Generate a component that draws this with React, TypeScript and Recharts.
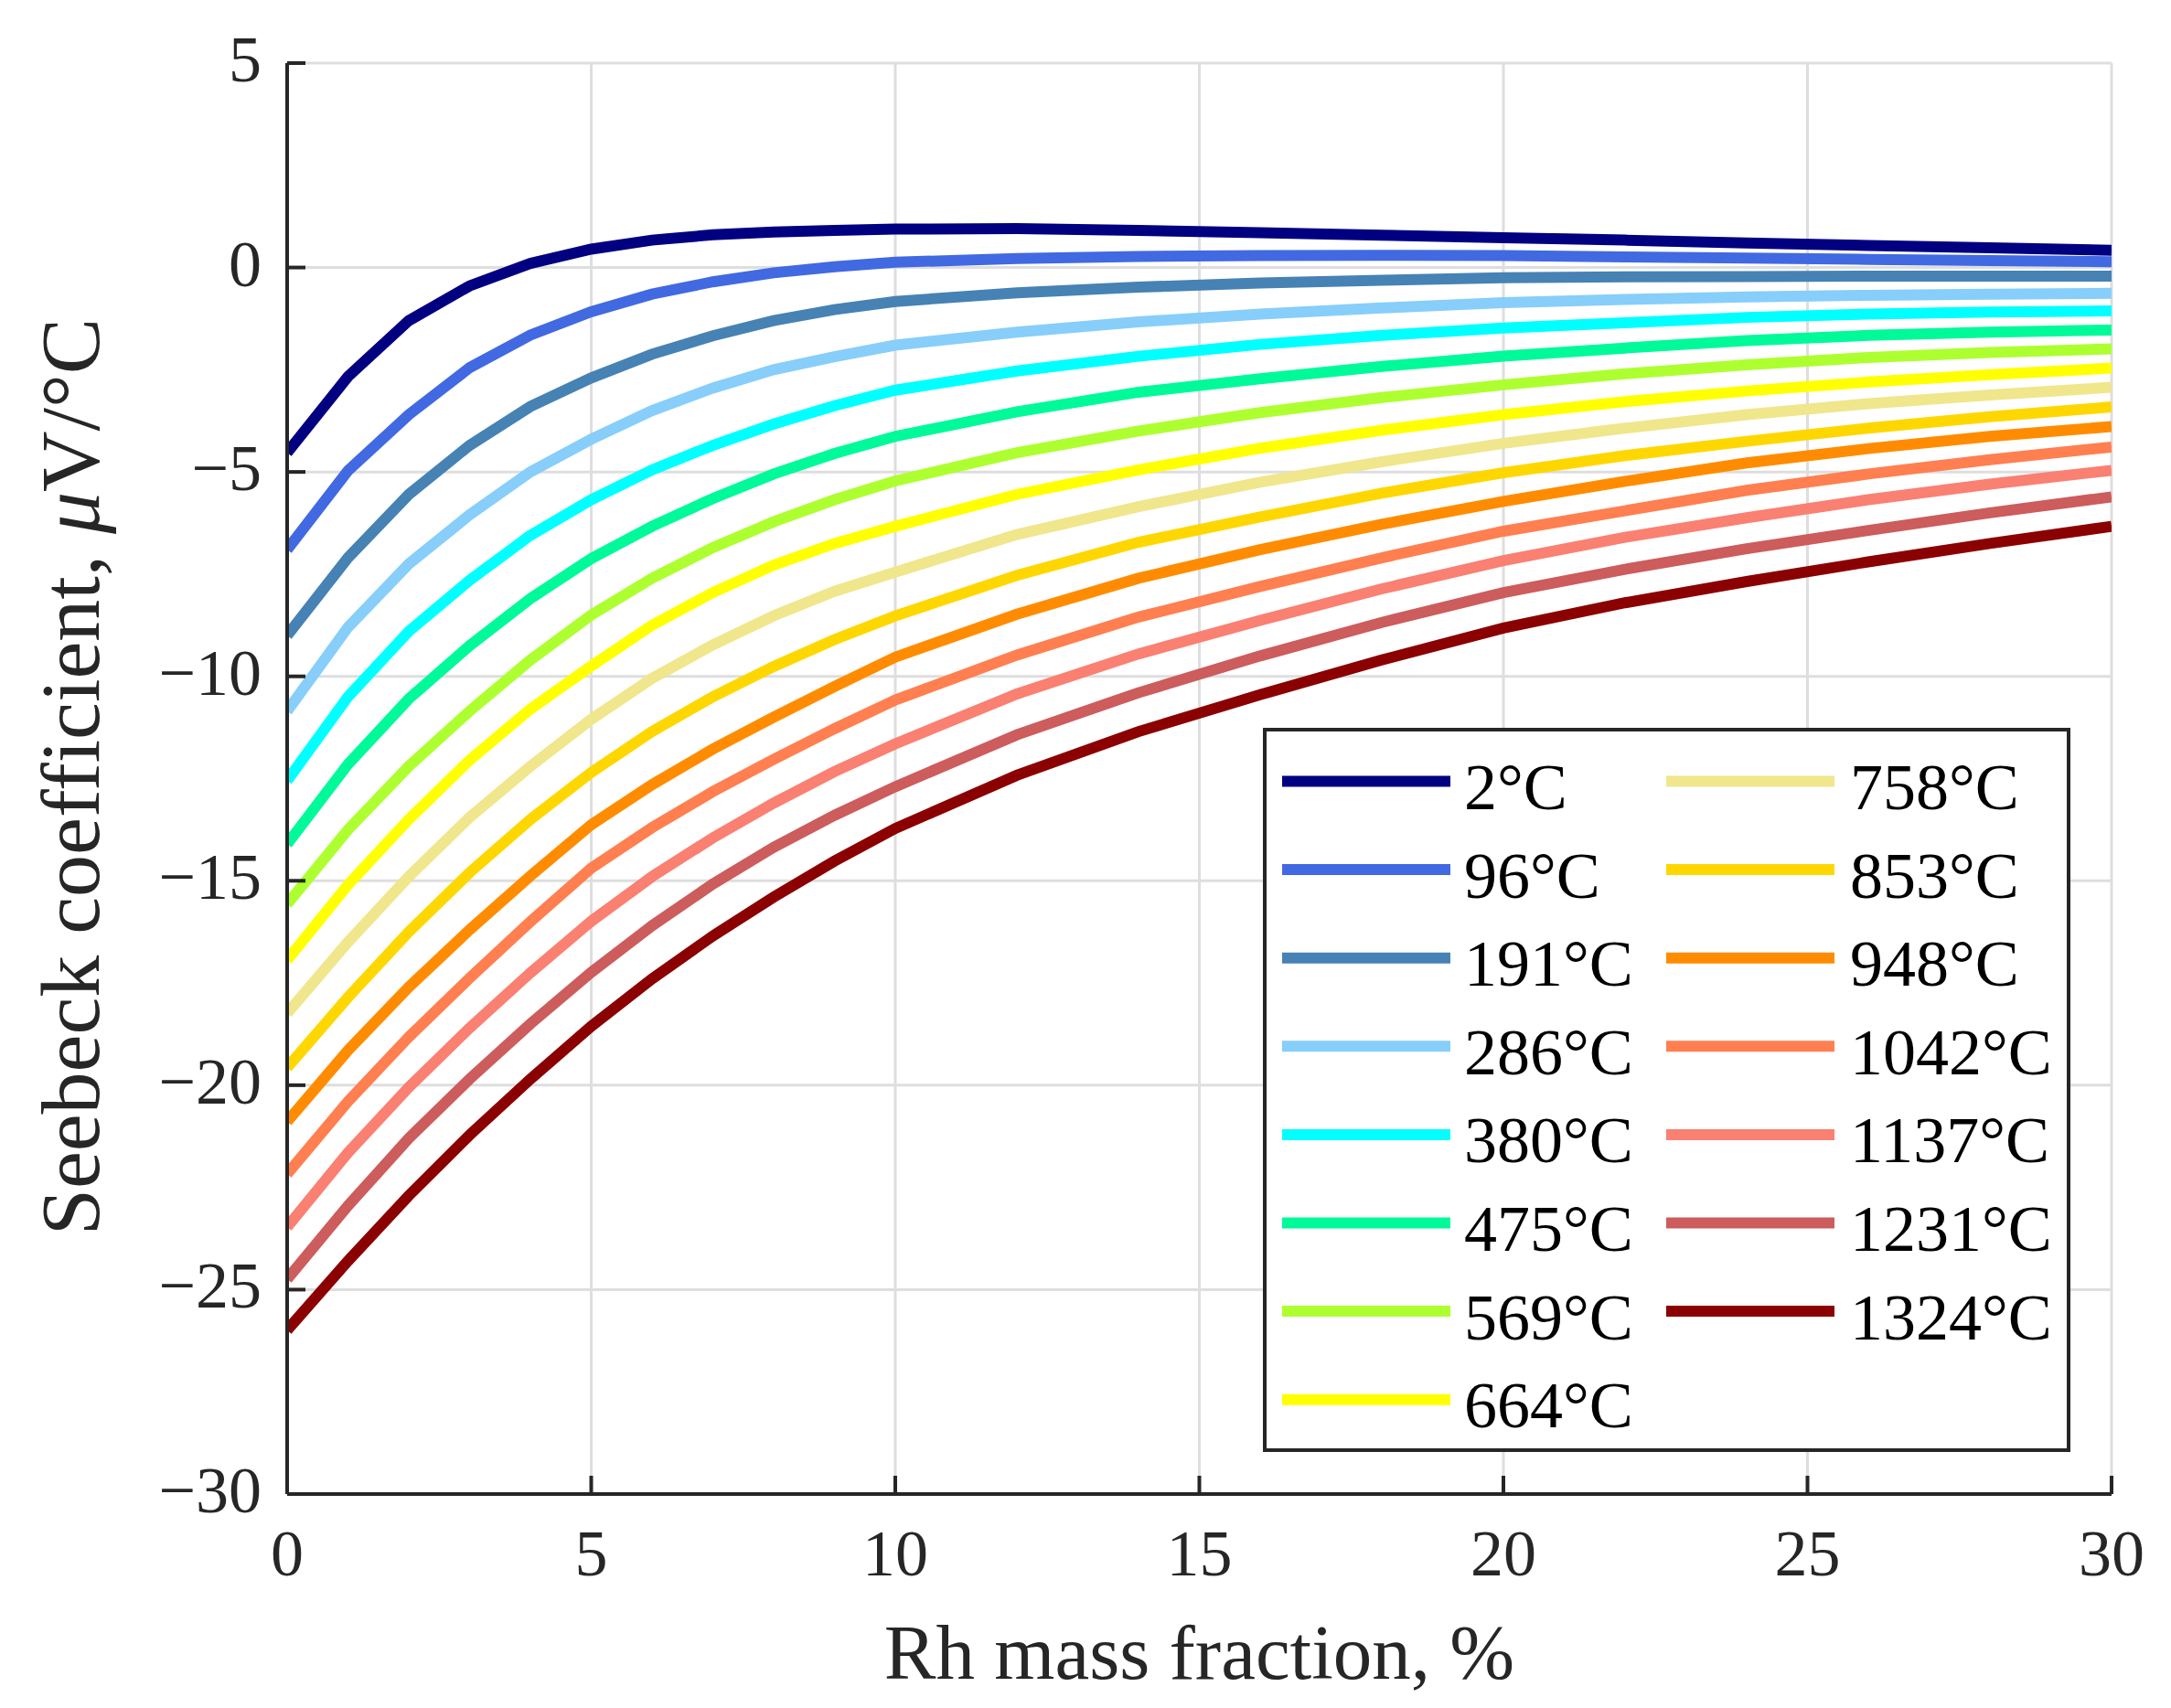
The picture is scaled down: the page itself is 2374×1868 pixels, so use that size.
import React from 'react';
import { LineChart, Line, XAxis, YAxis, CartesianGrid, Label } from 'recharts';

// ---------- data ----------
const xValues = [0, 1, 2, 3, 4, 5, 6, 7, 8, 9, 10, 12, 14, 16, 18, 20, 22, 24, 26, 28, 30];

const t2 = [-4.53, -2.67, -1.3, -0.45, 0.1, 0.45, 0.67, 0.8, 0.87, 0.91, 0.94, 0.95, 0.91, 0.85, 0.79, 0.73, 0.67, 0.6, 0.54, 0.48, 0.42];
const t96 = [-6.9, -4.97, -3.6, -2.45, -1.65, -1.08, -0.65, -0.35, -0.13, 0.02, 0.13, 0.22, 0.27, 0.29, 0.3, 0.29, 0.26, 0.23, 0.2, 0.17, 0.14];
const t191 = [-9.0, -7.1, -5.55, -4.35, -3.4, -2.7, -2.12, -1.67, -1.3, -1.03, -0.83, -0.62, -0.48, -0.38, -0.31, -0.25, -0.23, -0.22, -0.21, -0.21, -0.21];
const t286 = [-10.85, -8.8, -7.25, -6.05, -5.0, -4.2, -3.5, -2.95, -2.5, -2.18, -1.9, -1.58, -1.33, -1.14, -0.99, -0.86, -0.78, -0.72, -0.68, -0.65, -0.63];
const t380 = [-12.55, -10.5, -8.9, -7.65, -6.55, -5.68, -4.95, -4.35, -3.83, -3.38, -3.0, -2.53, -2.17, -1.88, -1.66, -1.48, -1.35, -1.22, -1.14, -1.09, -1.06];
const t475 = [-14.1, -12.15, -10.55, -9.25, -8.1, -7.12, -6.33, -5.65, -5.05, -4.55, -4.13, -3.53, -3.05, -2.72, -2.42, -2.17, -1.97, -1.79, -1.66, -1.58, -1.53];
const t569 = [-15.57, -13.75, -12.2, -10.85, -9.6, -8.5, -7.6, -6.85, -6.22, -5.68, -5.22, -4.53, -4.0, -3.55, -3.18, -2.87, -2.6, -2.38, -2.2, -2.08, -1.99];
const t664 = [-16.94, -15.1, -13.5, -12.05, -10.8, -9.75, -8.75, -7.95, -7.28, -6.75, -6.33, -5.55, -4.95, -4.42, -3.98, -3.6, -3.28, -3.02, -2.8, -2.62, -2.46];
const t758 = [-18.24, -16.5, -14.9, -13.45, -12.2, -11.05, -10.05, -9.23, -8.52, -7.92, -7.45, -6.53, -5.85, -5.25, -4.75, -4.3, -3.93, -3.6, -3.33, -3.12, -2.93];
const t853 = [-19.57, -17.85, -16.25, -14.8, -13.5, -12.35, -11.35, -10.5, -9.76, -9.1, -8.52, -7.53, -6.72, -6.1, -5.52, -5.02, -4.6, -4.25, -3.93, -3.65, -3.41];
const t948 = [-20.89, -19.15, -17.6, -16.2, -14.88, -13.63, -12.65, -11.78, -11.0, -10.25, -9.53, -8.48, -7.6, -6.9, -6.28, -5.72, -5.23, -4.78, -4.43, -4.13, -3.89];
const t1042 = [-22.17, -20.4, -18.82, -17.38, -16.0, -14.69, -13.7, -12.82, -12.03, -11.28, -10.58, -9.48, -8.55, -7.8, -7.1, -6.45, -5.95, -5.45, -5.05, -4.7, -4.39];
const t1137 = [-23.47, -21.65, -20.05, -18.6, -17.25, -15.99, -14.9, -13.95, -13.1, -12.33, -11.65, -10.43, -9.45, -8.63, -7.86, -7.17, -6.6, -6.12, -5.68, -5.3, -4.96];
const t1231 = [-24.74, -22.95, -21.3, -19.85, -18.5, -17.24, -16.1, -15.08, -14.18, -13.4, -12.7, -11.43, -10.4, -9.5, -8.68, -7.95, -7.38, -6.88, -6.43, -6.0, -5.61];
const t1324 = [-25.99, -24.3, -22.7, -21.22, -19.85, -18.56, -17.4, -16.35, -15.4, -14.52, -13.72, -12.42, -11.35, -10.45, -9.6, -8.82, -8.2, -7.68, -7.2, -6.75, -6.33];

const seriesNames = ['2°C', '96°C', '191°C', '286°C', '380°C', '475°C', '569°C', '664°C', '758°C', '853°C', '948°C', '1042°C', '1137°C', '1231°C', '1324°C'];
const seriesColors = ['#000080', '#4169E1', '#4682B4', '#87CEFA', '#00FFFF', '#00FA9A', '#ADFF2F', '#FFFF00', '#F0E68C', '#FFD700', '#FF8C00', '#FF7F50', '#FA8072', '#CD5C5C', '#8B0000'];
const seriesValues = [t2, t96, t191, t286, t380, t475, t569, t664, t758, t853, t948, t1042, t1137, t1231, t1324];

const xTicks = [0, 5, 10, 15, 20, 25, 30];
const yTicks = [-30, -25, -20, -15, -10, -5, 0, 5];

const xTitle = 'Rh mass fraction, %';
const yTitleText = 'Seebeck coefficient, ';
const yTitleMu = 'μ';
const yTitleUnit = 'V/°C';

const data = xValues.map((x, i) => {
  const row: Record<string, number> = { x };
  seriesValues.forEach((vals, k) => {
    row['s' + k] = vals[i];
  });
  return row;
});

// ---------- style / layout ----------
const W = 2366;
const H = 1860;
const MARGIN = { top: 61, right: 65, bottom: 0, left: 0 };
const Y_AXIS_W = 306;
const X_AXIS_H = 234;
const AXIS = '#262626';
const GRID = '#dedede';
const TICK_LEN = 20;
const FONT = '"Liberation Serif", "Times New Roman", serif';
const TICK_FS = 72;
const LINE_W = 12;

const fmt = (v: number) => (v < 0 ? '\u2212' + Math.abs(v) : String(v));

const BottomTick = (props: any) => {
  const { x, y, payload } = props;
  return (
    <g>
      <line x1={x} x2={x} y1={y} y2={y - TICK_LEN} stroke={AXIS} strokeWidth={4} />
      <text x={x} y={y + 89} textAnchor="middle" fontSize={TICK_FS} fontFamily={FONT} fill={AXIS}>
        {fmt(payload.value)}
      </text>
    </g>
  );
};

const TopTick = (props: any) => {
  const { x, y } = props;
  return <line x1={x} x2={x} y1={y} y2={y + TICK_LEN} stroke={AXIS} strokeWidth={4} />;
};

const LeftTick = (props: any) => {
  const { x, y, payload } = props;
  return (
    <g>
      <line x1={x} x2={x + TICK_LEN} y1={y} y2={y} stroke={AXIS} strokeWidth={4} />
      <text x={x - 28} y={y + 20} textAnchor="end" fontSize={TICK_FS} fontFamily={FONT} fill={AXIS}>
        {fmt(payload.value)}
      </text>
    </g>
  );
};

const RightTick = (props: any) => {
  const { x, y } = props;
  return <line x1={x} x2={x - TICK_LEN} y1={y} y2={y} stroke={AXIS} strokeWidth={4} />;
};

const XTitle = (props: any) => {
  const vb = props.viewBox;
  return (
    <text x={vb.x + vb.width / 2} y={1828} textAnchor="middle" fontSize={85} fontFamily={FONT} fill={AXIS}>
      {xTitle}
    </text>
  );
};

const YTitle = (props: any) => {
  const vb = props.viewBox;
  const cx = 100;
  const cy = vb.y + vb.height / 2 - 2;
  return (
    <text
      x={cx}
      y={cy}
      transform={`rotate(-90, ${cx}, ${cy})`}
      textAnchor="middle"
      fontSize={92}
      fontFamily={FONT}
      fill={AXIS}
    >
      {yTitleText}
      <tspan fontStyle="italic">{yTitleMu}</tspan>
      {yTitleUnit}
    </text>
  );
};

// legend layout (chart coordinates)
const LEG = { x: 1375, y: 790, w: 879, h: 788 };
const LEG_ROW0 = 846.5;
const LEG_ROW_STEP = 96.6;
const LEG_COLS = [
  { lx1: 1394, lx2: 1578, tx: 1593 },
  { lx1: 1814, lx2: 1998, tx: 2015 },
];
const LEG_PER_COL = 8;

const LegendOverlay = () => (
  <svg width={W} height={H} style={{ position: 'absolute', left: 0, top: 0, pointerEvents: 'none' }}>
    <rect x={LEG.x} y={LEG.y} width={LEG.w} height={LEG.h} fill="#ffffff" stroke={AXIS} strokeWidth={4} />
    {seriesNames.map((name, i) => {
      const col = LEG_COLS[i < LEG_PER_COL ? 0 : 1];
      const row = i < LEG_PER_COL ? i : i - LEG_PER_COL;
      const cy = LEG_ROW0 + row * LEG_ROW_STEP;
      return (
        <g key={name}>
          <line x1={col.lx1} x2={col.lx2} y1={cy} y2={cy} stroke={seriesColors[i]} strokeWidth={LINE_W} />
          <text x={col.tx} y={cy + 30.5} fontSize={72} fontFamily={FONT} fill="#000000">
            {name}
          </text>
        </g>
      );
    })}
  </svg>
);

export default function App() {
  return (
    <div style={{ position: 'relative', width: W, height: H, background: '#ffffff' }}>
      <LineChart width={W} height={H} data={data} margin={MARGIN}>
        <CartesianGrid stroke={GRID} strokeWidth={3} horizontal vertical />
        <XAxis
          dataKey="x"
          type="number"
          domain={[0, 30]}
          ticks={xTicks}
          interval={0}
          allowDataOverflow
          height={X_AXIS_H}
          tickSize={0}
          tickMargin={0}
          axisLine={{ stroke: AXIS, strokeWidth: 4 }}
          tickLine={false}
          tick={<BottomTick />}
        >
          <Label content={<XTitle />} />
        </XAxis>
        <XAxis
          xAxisId="top"
          orientation="top"
          dataKey="x"
          type="number"
          domain={[0, 30]}
          ticks={xTicks}
          interval={0}
          allowDataOverflow
          height={0}
          tickSize={0}
          tickMargin={0}
          axisLine={{ stroke: AXIS, strokeWidth: 4 }}
          tickLine={false}
          tick={<TopTick />}
        />
        <YAxis
          type="number"
          domain={[-30, 5]}
          ticks={yTicks}
          interval={0}
          allowDataOverflow
          width={Y_AXIS_W}
          tickSize={0}
          tickMargin={0}
          axisLine={{ stroke: AXIS, strokeWidth: 4 }}
          tickLine={false}
          tick={<LeftTick />}
        >
          <Label content={<YTitle />} />
        </YAxis>
        <YAxis
          yAxisId="right"
          orientation="right"
          type="number"
          domain={[-30, 5]}
          ticks={yTicks}
          interval={0}
          allowDataOverflow
          width={0}
          tickSize={0}
          tickMargin={0}
          axisLine={{ stroke: AXIS, strokeWidth: 4 }}
          tickLine={false}
          tick={<RightTick />}
        />
        {seriesNames.map((name, k) => (
          <Line
            key={name}
            type="linear"
            dataKey={'s' + k}
            name={name}
            stroke={seriesColors[k]}
            strokeWidth={LINE_W}
            dot={false}
            activeDot={false}
            isAnimationActive={false}
          />
        ))}
      </LineChart>
      <LegendOverlay />
    </div>
  );
}
